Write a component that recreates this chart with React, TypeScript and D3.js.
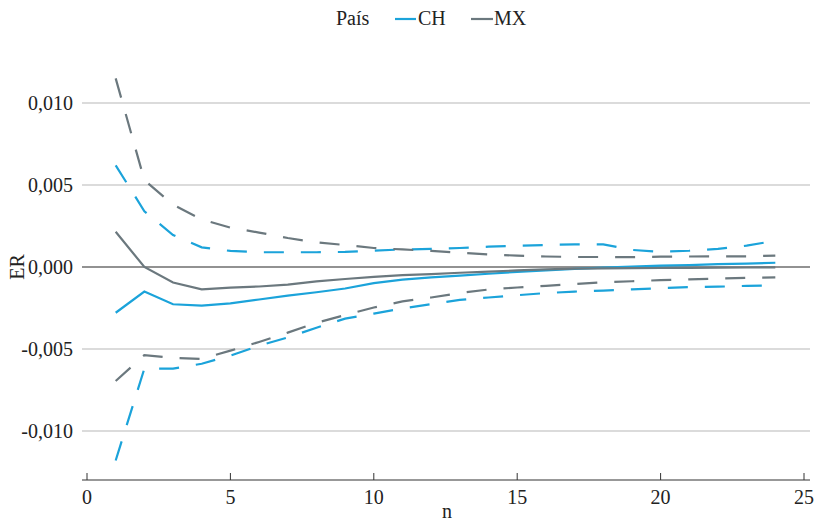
import React from "react";
import * as d3 from "d3";

const nValues = [1, 2, 3, 4, 5, 6, 7, 8, 9, 10, 11, 12, 13, 14, 15, 16, 17, 18, 19, 20, 21, 22, 23, 24];

const chMean = [-0.00279, -0.0015, -0.00227, -0.00235, -0.00222, -0.00198, -0.00174, -0.00154, -0.00131, -0.00098, -0.00077, -0.00063, -0.00052, -0.00041, -0.0003, -0.0002, -0.00011, -0.00004, 0.00002, 0.00008, 0.00012, 0.00017, 0.00021, 0.00026];
const chUpper = [0.0062, 0.0034, 0.00195, 0.0012, 0.00098, 0.0009, 0.0009, 0.0009, 0.00092, 0.001, 0.00107, 0.0011, 0.00116, 0.00124, 0.0013, 0.00134, 0.00138, 0.00138, 0.00104, 0.00093, 0.00099, 0.0011, 0.0013, 0.0016];
const chLower = [-0.0118, -0.0062, -0.0062, -0.0059, -0.0054, -0.0048, -0.0043, -0.0037, -0.00315, -0.00284, -0.00253, -0.00226, -0.00201, -0.00186, -0.00172, -0.00159, -0.0015, -0.00144, -0.00136, -0.00129, -0.00122, -0.0012, -0.00115, -0.00112];

const mxMean = [0.00215, 0.0, -0.00095, -0.00136, -0.00126, -0.00119, -0.00107, -0.00088, -0.00073, -0.0006, -0.0005, -0.00043, -0.00035, -0.00028, -0.00021, -0.00014, -0.0001, -0.00008, -0.00007, -0.00006, -0.00005, -0.00004, -0.00003, -0.00002];
const mxUpper = [0.0115, 0.0053, 0.0038, 0.0029, 0.0024, 0.0021, 0.00177, 0.0015, 0.00134, 0.00116, 0.00107, 0.00098, 0.00087, 0.00077, 0.00069, 0.00064, 0.00061, 0.00061, 0.0006, 0.00063, 0.00064, 0.00065, 0.00065, 0.00069];
const mxLower = [-0.00695, -0.00537, -0.00555, -0.0056, -0.0051, -0.00457, -0.004, -0.0034, -0.00293, -0.00247, -0.0021, -0.00186, -0.00159, -0.00137, -0.00125, -0.00115, -0.00104, -0.00093, -0.00087, -0.0008, -0.00075, -0.00071, -0.00066, -0.00063];

const xTicks = [0, 5, 10, 15, 20, 25];
const yTicks = [0.01, 0.005, 0, -0.005, -0.01];
const yTickLabels = ["0,010", "0,005", "0,000", "-0,005", "-0,010"];

const CH_COLOR = "#1ba3da";
const MX_COLOR = "#6b787e";
const FONT = "Liberation Serif, Times New Roman, DejaVu Serif, serif";

export default function App() {
  const W = 818;
  const H = 523;
  const x = d3.scaleLinear().domain([0, 25]).range([87, 804]);
  const y = d3.scaleLinear().domain([0.01, -0.01]).range([103, 431]);
  const xLeft = 82;
  const xRight = 810;
  const axisY = 480;

  const line = d3
    .line<[number, number]>()
    .x((d) => x(d[0]))
    .y((d) => y(d[1]));

  const mk = (vals: number[]) => line(nValues.map((n, i) => [n, vals[i]] as [number, number])) || "";

  const series = [
    { vals: chUpper, color: CH_COLOR, dash: "20 17" },
    { vals: chLower, color: CH_COLOR, dash: "20 17" },
    { vals: mxUpper, color: MX_COLOR, dash: "20 17" },
    { vals: mxLower, color: MX_COLOR, dash: "20 17" },
    { vals: chMean, color: CH_COLOR, dash: undefined },
    { vals: mxMean, color: MX_COLOR, dash: undefined },
  ];

  return (
    <svg width={W} height={H} style={{ position: "absolute", left: 0, top: 0 }} fontFamily={FONT}>
      <rect width={W} height={H} fill="#fff" />
      {yTicks.map((t, i) => (
        <g key={i}>
          <line
            x1={xLeft}
            x2={xRight}
            y1={y(t)}
            y2={y(t)}
            stroke={t === 0 ? "#6e6e6e" : "#cfcfcf"}
            strokeWidth={t === 0 ? 1.5 : 1.3}
          />
          <text x={73} y={y(t)} dy="0.35em" textAnchor="end" fontSize={20} fill="#222">
            {yTickLabels[i]}
          </text>
        </g>
      ))}
      <line x1={xLeft} x2={xRight} y1={axisY} y2={axisY} stroke="#333" strokeWidth={1.2} />
      {xTicks.map((t) => (
        <g key={t}>
          <line x1={x(t)} x2={x(t)} y1={axisY - 7} y2={axisY} stroke="#333" strokeWidth={1} />
          <text x={x(t)} y={504} textAnchor="middle" fontSize={20} fill="#222">
            {t}
          </text>
        </g>
      ))}
      <text x={447} y={518} textAnchor="middle" fontSize={20} fill="#222">
        n
      </text>
      <text transform="translate(24,267) rotate(-90)" textAnchor="middle" fontSize={20} fill="#222">
        ER
      </text>
      {series.map((s, i) => (
        <path
          key={i}
          d={mk(s.vals)}
          fill="none"
          stroke={s.color}
          strokeWidth={2.2}
          strokeDasharray={s.dash}
        />
      ))}
      <g>
        <text x={336} y={25} fontSize={20} fill="#222">
          País
        </text>
        <line x1={395} x2={416} y1={19} y2={19} stroke={CH_COLOR} strokeWidth={2.2} />
        <text x={418} y={25} fontSize={20} fill="#222">
          CH
        </text>
        <line x1={471} x2={493} y1={19} y2={19} stroke={MX_COLOR} strokeWidth={2.2} />
        <text x={494} y={25} fontSize={20} fill="#222">
          MX
        </text>
      </g>
    </svg>
  );
}
